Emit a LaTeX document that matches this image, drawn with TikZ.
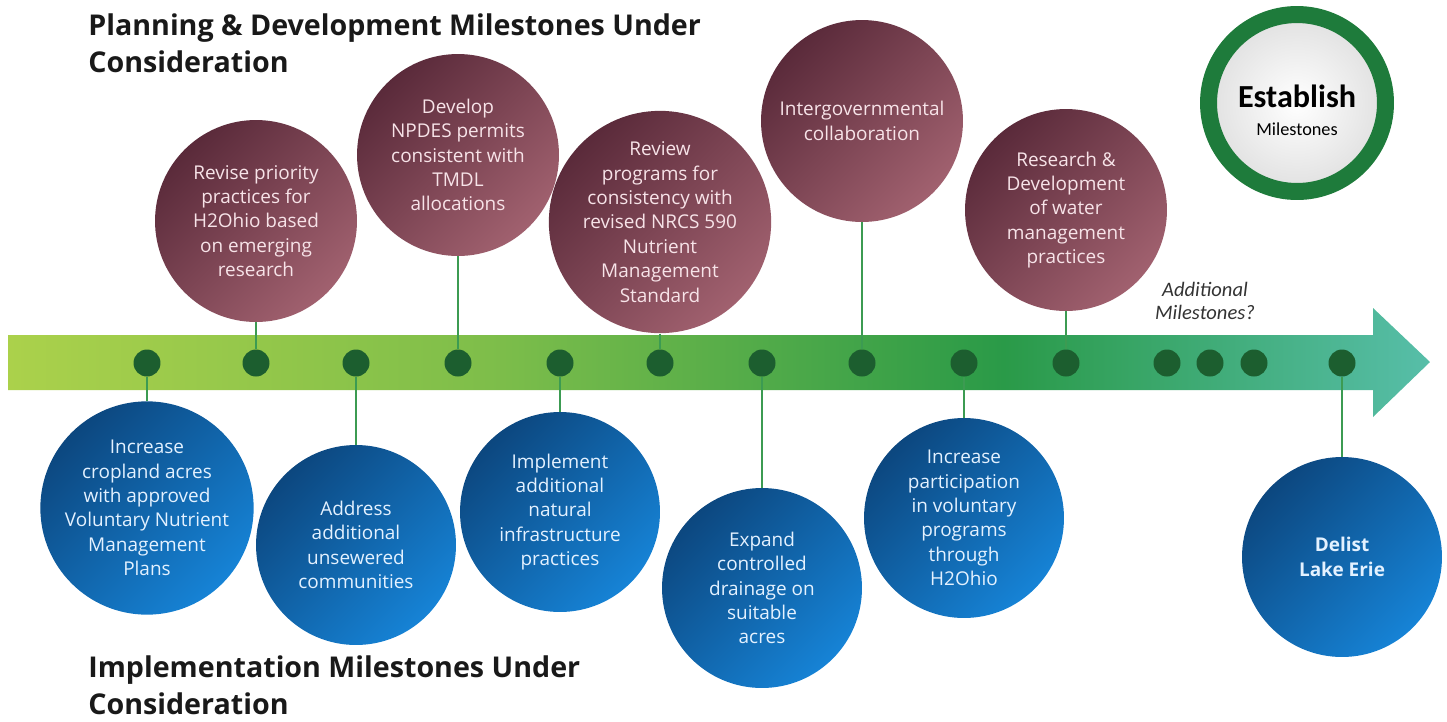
\documentclass[tikz,border=0pt]{standalone}
\usepackage{fontspec}
\setmainfont{Open Sans}
\newfontfamily\calfont{Carlito}
\usetikzlibrary{positioning}

\definecolor{barlime}{HTML}{ABD14B}
\definecolor{bargreen}{HTML}{2A9A48}
\definecolor{barteal}{HTML}{57BEA9}
\definecolor{dotgreen}{HTML}{1C5E2F}
\definecolor{stemgreen}{HTML}{3C9B52}
\definecolor{plumdark}{HTML}{5A2A3A}
\definecolor{plumlight}{HTML}{A1616F}
\definecolor{plumtext}{HTML}{F7E3E8}
\definecolor{bluedark}{HTML}{0C477F}
\definecolor{bluelight}{HTML}{1683D6}
\definecolor{bluetext}{HTML}{E3F1FF}
\definecolor{ringgreen}{HTML}{1E7B3B}

\pgfdeclarehorizontalshading{timeline}{100bp}{color(0bp)=(barlime); color(25bp)=(barlime); color(42bp)=(barlime!65!bargreen); color(60bp)=(bargreen); color(75bp)=(barteal); color(100bp)=(barteal)}

\newcommand\milefont{\fontsize{10.8}{13.9}\selectfont}
\newcommand\headfont{\fontsize{16.3}{21}\selectfont\bfseries}

\tikzset{
  plan/.style={circle, minimum size=4.04cm, inner sep=0pt, align=center, text=plumtext,
    left color=plumdark, right color=plumlight, shading angle=45, font=\milefont},
  impl/.style={circle, minimum size=4cm, inner sep=0pt, align=center, text=bluetext,
    left color=bluedark, right color=bluelight, shading angle=45, font=\milefont},
  mdot/.style={circle, fill=dotgreen, minimum size=0.54cm, inner sep=0pt},
  stemline/.style={stemgreen, line width=0.04cm},
  headline/.style={anchor=base west, align=left, inner sep=0pt, text=black!90, font=\headfont},
}

\begin{document}
\begin{tikzpicture}[x=0.02cm, y=-0.02cm]
  \useasboundingbox (0,0) rectangle (1447,721);
  % timeline arrow
  \shade[shading=timeline] (8,335) -- (1373,335) -- (1373,308) -- (1430,362)
    -- (1373,417) -- (1373,390) -- (8,390) -- cycle;
  % milestone dots
  \foreach \x [count=\i] in {147,256,356,458,560,660,762,862,964,1066,1167,1210,1254,1342}
    \node[mdot] (d\i) at (\x,363) {};

  % planning & development (top)
  \node[plan] (t1) at (256,221) {Revise priority\\practices for\\H2Ohio based\\on emerging\\research};
  \node[plan] (t2) at (458,155) {Develop\\NPDES permits\\consistent with\\TMDL\\allocations};
  \node[plan] (t3) at (660,222) {Review\\programs for\\consistency with\\revised NRCS 590\\Nutrient\\Management\\Standard};
  \node[plan] (t4) at (862,121) {Intergovernmental\\collaboration};
  \node[plan] (t5) at (1066,210) {Research \&\\Development\\of water\\management\\practices};

  % implementation (bottom)
  \node[impl] (b1) at (147,508) {Increase\\cropland acres\\with approved\\Voluntary Nutrient\\Management\\Plans};
  \node[impl] (b2) at (356,545) {Address\\additional\\unsewered\\communities};
  \node[impl] (b3) at (560,512) {Implement\\additional\\natural\\infrastructure\\practices};
  \node[impl] (b4) at (762,588) {Expand\\controlled\\drainage on\\suitable\\acres};
  \node[impl] (b5) at (964,518) {Increase\\participation\\in voluntary\\programs\\through\\H2Ohio};
  \node[impl, font=\milefont\bfseries] (b6) at (1342,557) {Delist\\Lake Erie};

  \foreach \c/\d in {t1/d2, t2/d4, t3/d6, t4/d8, t5/d10, b1/d1, b2/d3, b3/d5, b4/d7, b5/d9, b6/d14}
    \draw[stemline] (\c) -- (\d);

  \node[align=center, text=black!80, font=\calfont\itshape\fontsize{11.7}{13}\selectfont] (more) at (1205,301) {Additional\\Milestones?};

  % establish badge
  \node[circle, minimum size=3.54cm, line width=0.34cm, draw=ringgreen, inner color=white, outer color=black!12] (badge) at (1297,103) {};
  \node[align=center, inner sep=0pt, font=\calfont\fontsize{10.4}{13}\selectfont] (badge-txt) at (1297,110)
    {{\bfseries\fontsize{18.3}{20}\selectfont Establish}\\[3pt]Milestones};

  \node[headline] (plan-head) at (88,72) {Planning \& Development Milestones Under\\Consideration};
  \node[headline] (impl-head) at (88,714) {Implementation Milestones Under\\Consideration};
\end{tikzpicture}
\end{document}
